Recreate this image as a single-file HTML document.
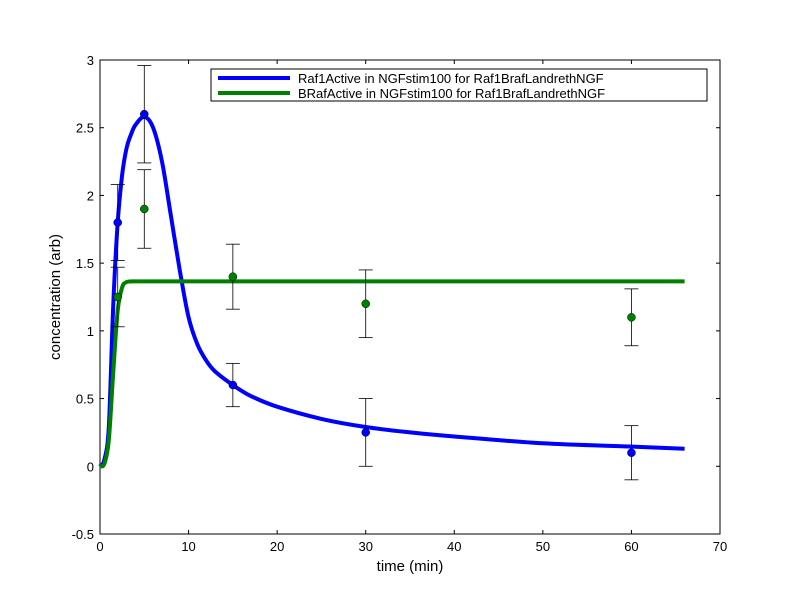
<!DOCTYPE html>
<html><head><meta charset="utf-8"><style>
body{margin:0;background:#fff;}
svg text{font-family:"Liberation Sans",sans-serif;}
</style></head><body>
<svg id="chart" width="800" height="600" xmlns="http://www.w3.org/2000/svg">
<rect x="0" y="0" width="800" height="600" fill="#fff"/>
</svg>
<script>
const xTicks=[0,10,20,30,40,50,60,70];
const yTicks=[-0.5,0,0.5,1,1.5,2,2.5,3];
const yTickLabels=["-0.5","0","0.5","1","1.5","2","2.5","3"];
const blueT=[0,0.5,1,1.5,2,2.5,3,3.5,4,5,6,7,8,9,10,11,12,13,15,17,20,25,30,35,40,50,60,66];
const blueY=[0,0.05,0.3,1.2,1.8,2.15,2.35,2.45,2.52,2.58,2.5,2.25,1.85,1.45,1.1,0.9,0.78,0.7,0.6,0.52,0.44,0.35,0.29,0.25,0.22,0.17,0.145,0.13];
const greenT=[0,0.5,1,1.5,2,2.5,3,4,5,8,15,30,50,66];
const greenY=[0,0.02,0.2,0.7,1.15,1.32,1.36,1.365,1.365,1.365,1.365,1.365,1.365,1.365];
const dataT=[2,5,15,30,60];
const blueData=[1.8,2.6,0.6,0.25,0.1];
const blueErr=[0.28,0.36,0.16,0.25,0.2];
const greenData=[1.25,1.9,1.4,1.2,1.1];
const greenErr=[0.22,0.29,0.24,0.25,0.21];

const L=100,R=720,T=60,B=534;
const xs=v=>L+(v-0)/(70-0)*(R-L);
const ys=v=>B-(v+0.5)/3.5*(B-T);
const svg=document.getElementById('chart');
const NS="http://www.w3.org/2000/svg";
function mk(tag,attrs,parent){const e=document.createElementNS(NS,tag);for(const k in attrs)e.setAttribute(k,attrs[k]);(parent||svg).appendChild(e);return e;}

const frame=mk('rect',{x:L,y:T,width:R-L,height:B-T,fill:'none',stroke:'#000','stroke-width':1});



xTicks.forEach(v=>{
 const x=xs(v);
 mk('line',{x1:x,y1:B,x2:x,y2:B-4,stroke:'#000'});
 mk('line',{x1:x,y1:T,x2:x,y2:T+4,stroke:'#000'});
 const t=mk('text',{x:x,y:B+17,'text-anchor':'middle','font-size':13});
 t.textContent=v;
 
 
});
yTicks.forEach((v,i)=>{
 const y=ys(v);
 mk('line',{x1:L,y1:y,x2:L+4,y2:y,stroke:'#000'});
 mk('line',{x1:R,y1:y,x2:R-4,y2:y,stroke:'#000'});
 const t=mk('text',{x:L-6,y:y+5,'text-anchor':'end','font-size':13});
 t.textContent=yTickLabels[i];
 
 
});
const xt=mk('text',{x:410,y:571,'text-anchor':'middle','font-size':15});
xt.textContent='time (min)';


const yt=mk('text',{x:60,y:297,'text-anchor':'middle','font-size':15,transform:'rotate(-90 60 297)'});
yt.textContent='concentration (arb)';



function line(ts,vals,color,name){
 const P=ts.map((t,i)=>[xs(t),ys(vals[i])]);
 let d='M'+P[0][0].toFixed(1)+','+P[0][1].toFixed(1);
 for(let i=0;i<P.length-1;i++){
  const p0=P[Math.max(0,i-1)],p1=P[i],p2=P[i+1],p3=P[Math.min(P.length-1,i+2)];
  const c1=[p1[0]+(p2[0]-p0[0])/6,p1[1]+(p2[1]-p0[1])/6];
  const c2=[p2[0]-(p3[0]-p1[0])/6,p2[1]-(p3[1]-p1[1])/6];
  d+=' C'+c1[0].toFixed(1)+','+c1[1].toFixed(1)+' '+c2[0].toFixed(1)+','+c2[1].toFixed(1)+' '+p2[0].toFixed(1)+','+p2[1].toFixed(1);
 }
 const p=mk('path',{d:d,fill:'none',stroke:color,'stroke-width':4,'stroke-linejoin':'round'});
 
 
}
function pts(vals,errs,color,name){
 dataT.forEach((t,i)=>{
  const x=xs(t),y1=ys(vals[i]-errs[i]),y2=ys(vals[i]+errs[i]);
  mk('line',{x1:x,y1:y1,x2:x,y2:y2,stroke:'#000','stroke-width':0.8});
  mk('line',{x1:x-7,y1:y1,x2:x+7,y2:y1,stroke:'#000','stroke-width':0.8});
  mk('line',{x1:x-7,y1:y2,x2:x+7,y2:y2,stroke:'#000','stroke-width':0.8});
  const c=mk('circle',{cx:x,cy:ys(vals[i]),r:4,fill:color,stroke:'#000','stroke-width':0.5});
  
  
 });
}
line(blueT,blueY,'#0000ff','raf1-line');
line(greenT,greenY,'#008000','braf-line');
pts(blueData,blueErr,'#0000ff','raf1-point');
pts(greenData,greenErr,'#008000','braf-point');

const lg=mk('g',{});


mk('rect',{x:211,y:69,width:496,height:32,fill:'#fff',stroke:'#000'},lg);
mk('line',{x1:218,y1:78,x2:290,y2:78,stroke:'#0000ff','stroke-width':4},lg);
mk('line',{x1:218,y1:93,x2:290,y2:93,stroke:'#008000','stroke-width':4},lg);
const l1=mk('text',{x:298,y:83,'font-size':13},lg);l1.textContent='Raf1Active in NGFstim100 for Raf1BrafLandrethNGF';


const l2=mk('text',{x:298,y:98,'font-size':13},lg);l2.textContent='BRafActive in NGFstim100 for Raf1BrafLandrethNGF';


</script>
</body></html>
